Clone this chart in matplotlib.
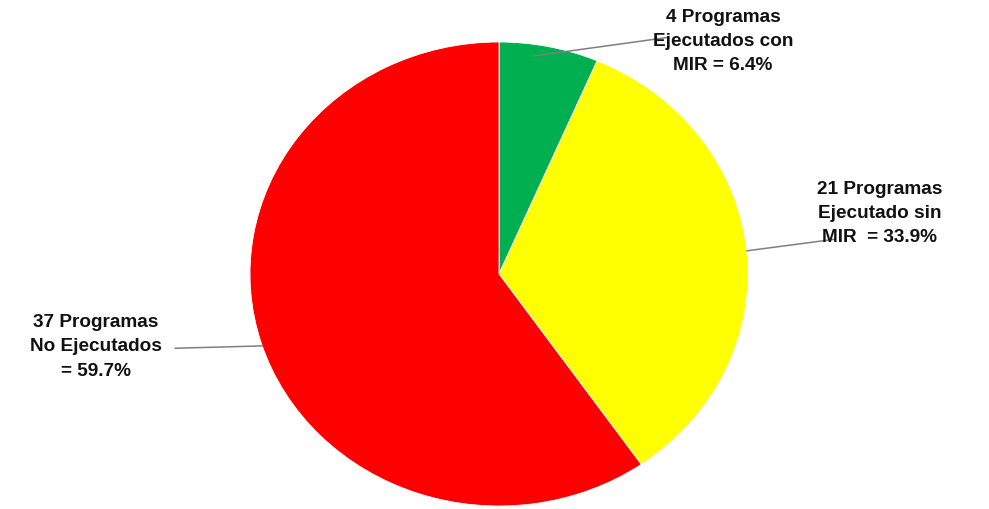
import matplotlib

matplotlib.use("Agg")
import matplotlib.pyplot as plt

# data
categories = ["Ejecutados con MIR", "Ejecutado sin MIR", "No Ejecutados"]
counts = [4, 21, 37]
labels = [
    "4 Programas\nEjecutados con\nMIR = 6.4%",
    "21 Programas\nEjecutado sin\nMIR  = 33.9%",
    "37 Programas\nNo Ejecutados\n= 59.7%",
]
colors = ["#00B050", "#FFFF00", "#FF0000"]

# label placement (data coords of the pie axes, radius = 1)
label_pos = [(0.90, 1.005), (1.53, 0.265), (-1.62, -0.31)]
leader_start = [(0.14, 0.94), (0.996, 0.10), (-0.952, -0.31)]
leader_end = [(0.68, 1.02), (1.35, 0.15), (-1.30, -0.32)]

plt.rcParams["font.family"] = ["Liberation Sans", "DejaVu Sans"]

fig = plt.figure(figsize=(9.89, 5.10), dpi=100)
ax = fig.add_axes([0, 0, 1, 1])

ax.pie(
    counts,
    colors=colors,
    startangle=90,
    counterclock=False,
    radius=1,
    wedgeprops=dict(edgecolor="white", linewidth=0.6),
)
ax.set_aspect("auto")
# pie center at (499, 275) px, radii 249 px x 232 px
ax.set_xlim(-499 / 249, (989 - 499) / 249)
ax.set_ylim(-(510 - 275) / 232, 275 / 232)
ax.axis("off")

for text, pos, s, e in zip(labels, label_pos, leader_start, leader_end):
    ax.plot([s[0], e[0]], [s[1], e[1]], color="#7f7f7f", lw=1.1)
    ax.text(pos[0], pos[1], text, ha="center", va="center",
            fontsize=13.7, fontweight="bold", color="#111111", linespacing=1.55)

fig.savefig("out.png", dpi=100)
